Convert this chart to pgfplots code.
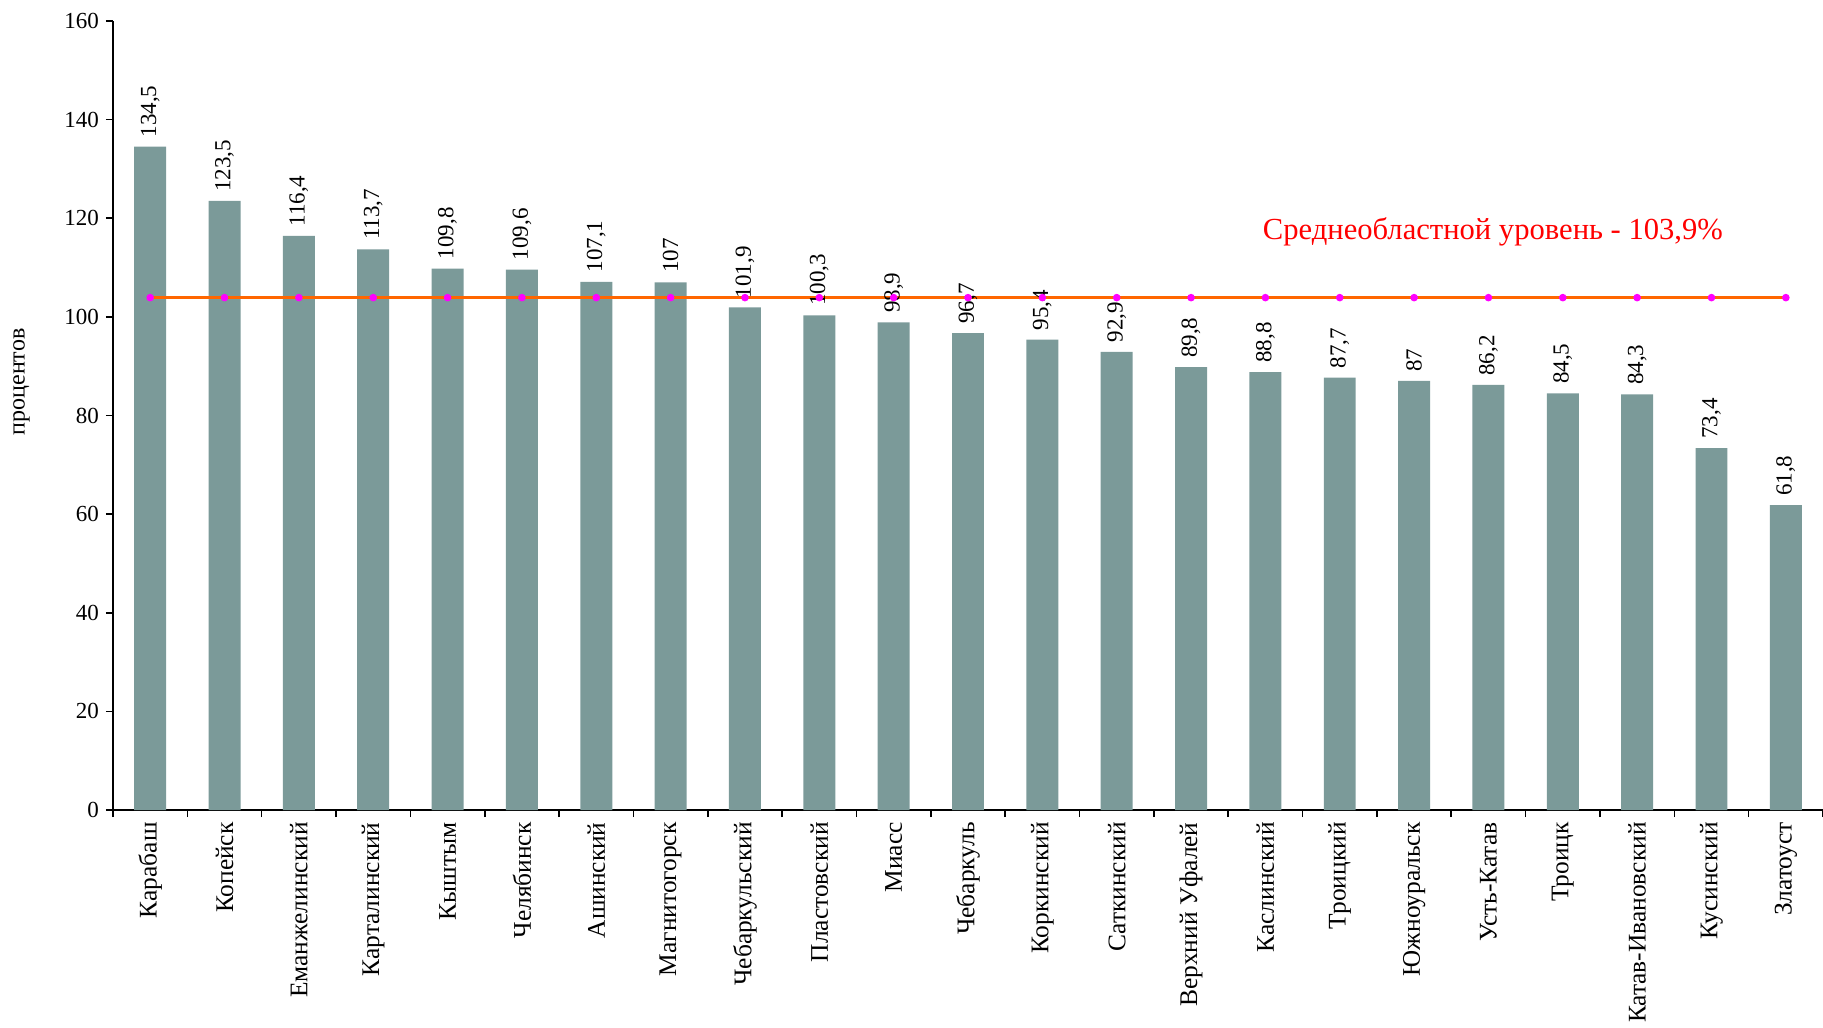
\documentclass[border=0pt]{standalone}
\usepackage{fontspec}
\setmainfont{Liberation Serif}
\usepackage{pgfplots}
\pgfplotsset{compat=1.18}
\definecolor{barc}{RGB}{123,154,153}
\definecolor{lineor}{RGB}{255,102,0}
\definecolor{dotc}{RGB}{255,0,255}
\begin{document}
\begin{tikzpicture}
\useasboundingbox (0,0) rectangle (911.5pt,513.5pt);
\begin{axis}[
  at={(56.5pt,108.5pt)}, anchor=south west,
  scale only axis, width=855pt, height=394.5pt,
  xmin=-0.5, xmax=22.5, ymin=0, ymax=160,
  axis lines*=left,
  axis line style={line width=0.8pt},
  ytick={0,20,...,160},
  xtick={-0.5,0.5,...,22.5},
  x tick label as interval,
  xticklabels={Карабаш,Копейск,Еманжелинский,Карталинский,Кыштым,Челябинск,Ашинский,Магнитогорск,Чебаркульский,Пластовский,Миасс,Чебаркуль,Коркинский,Саткинский,Верхний Уфалей,Каслинский,Троицкий,Южноуральск,Усть-Катав,Троицк,Катав-Ивановский,Кусинский,Златоуст,},
  tick align=outside,
  major tick length=3.5pt,
  tick style={black, line width=0.8pt},
  /pgf/number format/assume math mode=true,
  y tick label style={font=\fontsize{11.5}{13}\selectfont},
  x tick label style={rotate=90, anchor=east, inner sep=2.5pt, font=\fontsize{12.7}{15}\selectfont},
  ylabel={процентов},
  ylabel style={at={(axis description cs:-0.0535,0.5425)}, anchor=center, font=\fontsize{12}{14}\selectfont},
  clip=false,
]
\addplot[ybar, bar width=0.43, fill=barc, draw=none,
  nodes near coords,
  nodes near coords style={rotate=90, anchor=west, inner sep=4.5pt, font=\fontsize{11.5}{13}\selectfont, /pgf/number format/use comma, /pgf/number format/assume math mode=true}]
coordinates {
(0,134.5) (1,123.5) (2,116.4) (3,113.7) (4,109.8) (5,109.6) (6,107.1) (7,107) (8,101.9) (9,100.3) (10,98.9) (11,96.7) (12,95.4) (13,92.9) (14,89.8) (15,88.8) (16,87.7) (17,87) (18,86.2) (19,84.5) (20,84.3) (21,73.4) (22,61.8)
};
\addplot[lineor, line width=1.5pt, mark=*, mark size=1.1pt, mark options={fill=dotc, draw=dotc}]
coordinates {
(0,103.9) (1,103.9) (2,103.9) (3,103.9) (4,103.9) (5,103.9) (6,103.9) (7,103.9) (8,103.9) (9,103.9) (10,103.9) (11,103.9) (12,103.9) (13,103.9) (14,103.9) (15,103.9) (16,103.9) (17,103.9) (18,103.9) (19,103.9) (20,103.9) (21,103.9) (22,103.9)
};
\node[text=red, font=\fontsize{15.3}{18}\selectfont] at (axis cs:18.06,117.2) {Среднеобластной уровень - 103,9\%};
\end{axis}
\end{tikzpicture}
\end{document}
